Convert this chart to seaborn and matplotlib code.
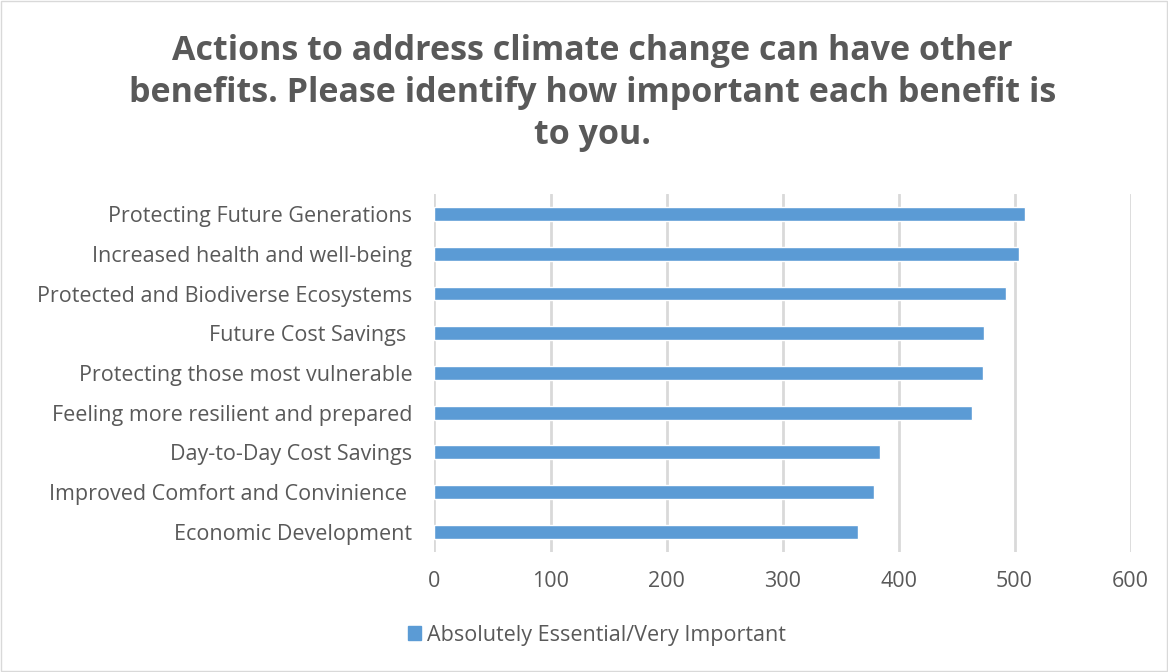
import matplotlib.pyplot as plt
import seaborn as sns
import pandas as pd
from matplotlib.patches import Rectangle, Patch

# benefits and counts of "Absolutely Essential/Very Important" answers
benefits = ['Protecting Future Generations',
            'Increased health and well-being',
            'Protected and Biodiverse Ecosystems',
            'Future Cost Savings ',
            'Protecting those most vulnerable',
            'Feeling more resilient and prepared',
            'Day-to-Day Cost Savings',
            'Improved Comfort and Convinience ',
            'Economic Development']
counts = [509, 504, 493, 474, 473, 463, 384, 379, 365]
x_ticks = [0, 100, 200, 300, 400, 500, 600]
series_name = 'Absolutely Essential/Very Important'

df = pd.DataFrame({'benefit': benefits, 'count': counts})

sns.set_style('white')
plt.rcParams['font.family'] = ['Open Sans', 'DejaVu Sans']

gray = '#595959'
blue = '#5B9BD5'

fig = plt.figure(figsize=(11.68, 6.72), dpi=100)
ax = fig.add_axes([0.372, 0.179, 0.596, 0.532])

sns.barplot(data=df, x='count', y='benefit', color=blue, width=0.35,
            saturation=1, ax=ax, zorder=3)

ax.set_xlim(0, 600)
ax.set_xticks(x_ticks)
ax.set_xlabel('')
ax.set_ylabel('')
ax.grid(axis='x', color='#D9D9D9', linewidth=2, zorder=0)
for s in ax.spines.values():
    s.set_visible(False)
ax.tick_params(axis='both', length=0, labelsize=15.5, labelcolor=gray)
ax.tick_params(axis='x', pad=14)
ax.tick_params(axis='y', pad=16)

fig.text(0.507, 0.862, 'Actions to address climate change can have other\n'
         'benefits. Please identify how important each benefit is\nto you.',
         ha='center', va='center', fontsize=24.5, fontweight='bold', color=gray,
         linespacing=1.3)

fig.legend(handles=[Patch(color=blue, label=series_name)], loc='center',
           bbox_to_anchor=(0.511, 0.055), frameon=False, fontsize=15.5,
           labelcolor=gray, handlelength=0.6, handleheight=0.6, handletextpad=0.3)

fig.patches.append(Rectangle((0.001, 0.001), 0.998, 0.998, transform=fig.transFigure,
                             fill=False, edgecolor='#D9D9D9', linewidth=1))

fig.savefig('out.png', dpi=100)
